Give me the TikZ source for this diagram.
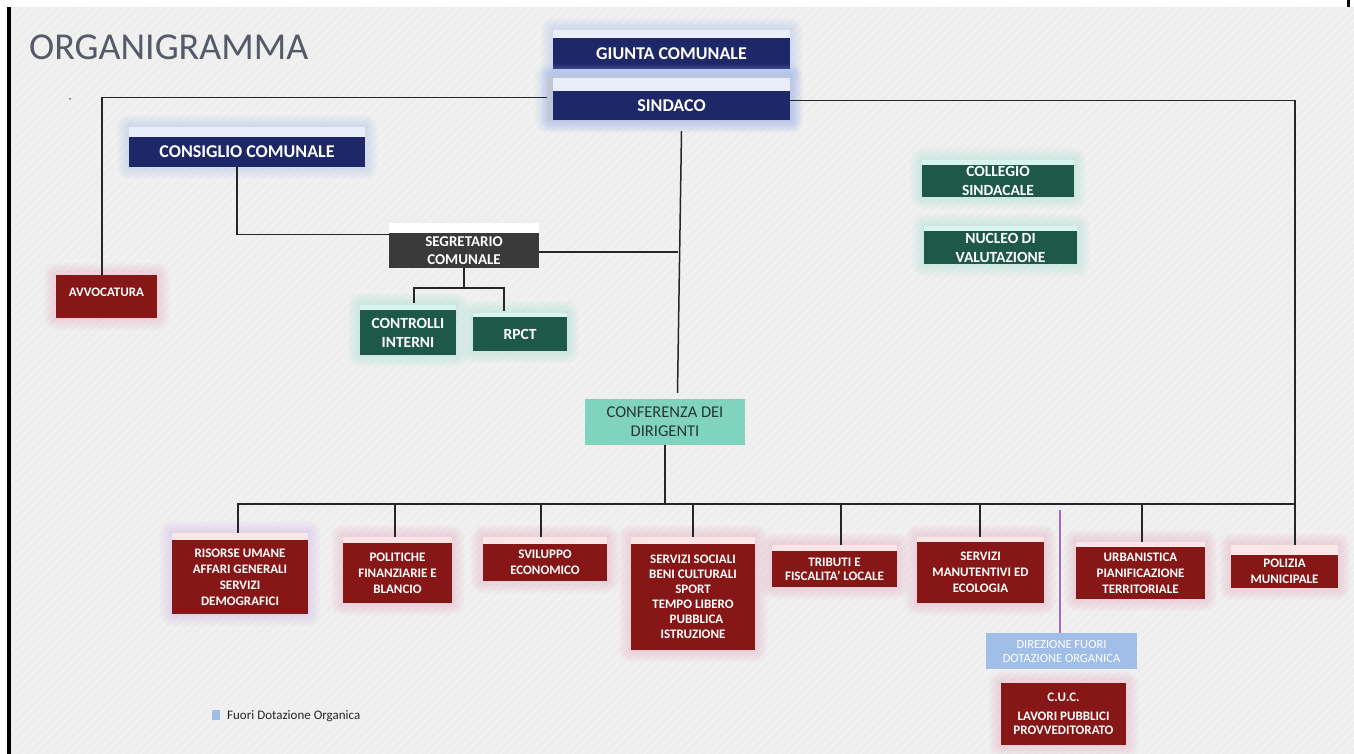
\documentclass[tikz,border=0pt]{standalone}
\usepackage{fontspec}
\setmainfont{Carlito}
\definecolor{bgc}{RGB}{238,238,238}
\definecolor{navyc}{RGB}{30,40,105}
\definecolor{redc}{RGB}{135,22,22}
\definecolor{greenc}{RGB}{30,88,72}
\definecolor{grayc}{RGB}{58,58,58}
\definecolor{confc}{RGB}{128,212,190}
\definecolor{dirc}{RGB}{160,190,232}
\definecolor{navystripc}{RGB}{232,238,250}
\definecolor{redstripc}{RGB}{250,230,230}
\definecolor{greenstripc}{RGB}{215,245,238}
\definecolor{navyglowc}{RGB}{150,175,235}
\definecolor{redglowc}{RGB}{235,150,180}
\definecolor{purpglowc}{RGB}{205,160,235}
\definecolor{greenglowc}{RGB}{140,220,200}
\definecolor{titlec}{RGB}{85,90,105}
\definecolor{purplinec}{RGB}{165,105,205}
\definecolor{conftextc}{RGB}{40,55,50}
\newcommand\obox[9][]{%
  \foreach \g in {2,4,6,8,10,12}{%
    \fill[#3glow, opacity=.06, rounded corners=\g pt] (#4-\g,#5-\g) rectangle (#6+\g,#8+\g);}
  \fill[#3strip] (#4,#5) rectangle (#6,#7);
  \node[#3box, #1, minimum width={(#6-#4)*1pt}, minimum height={(#8-#7)*1pt}, inner sep=0pt, align=center] (#2) at ({(#4+#6)/2},{(#7+#8)/2}) {#9};
}
\begin{document}
\begin{tikzpicture}[x=1pt,y=-1pt,
  navybox/.style={fill=navyc, text=white, font=\bfseries\fontsize{18}{20}\selectfont},
  navystrip/.style={fill=navystripc},
  navyglow/.style={fill=navyglowc},
  graybox/.style={fill=grayc, text=white, font=\bfseries\fontsize{15}{18}\selectfont},
  graystrip/.style={fill=white},
  grayglow/.style={fill=none},
  greenbox/.style={fill=greenc, text=white, font=\bfseries\fontsize{15.5}{19}\selectfont},
  greenstrip/.style={fill=greenstripc},
  greenglow/.style={fill=greenglowc},
  redbox/.style={fill=redc, text=white, font=\bfseries\fontsize{13}{16}\selectfont},
  redstrip/.style={fill=redstripc},
  redglow/.style={fill=redglowc},
  redpbox/.style={redbox},
  redpstrip/.style={redstrip},
  redpglow/.style={fill=purpglowc},
  confbox/.style={fill=confc, text=conftextc, font=\fontsize{16.5}{19}\selectfont},
  confstrip/.style={fill=none},
  confglow/.style={fill=none},
  dirbox/.style={fill=dirc, text=white, font=\fontsize{12.5}{14}\selectfont},
  dirstrip/.style={fill=none},
  dirglow/.style={fill=none},
  conn/.style={draw=black!85, line width=1.5pt},
  purpconn/.style={draw=purplinec, line width=1.3pt}
]
\useasboundingbox (0,0) rectangle (1354,754);
% background
\fill[white] (0,0) rectangle (1354,754);
\fill[bgc] (11,7) rectangle (1354,754);
\begin{scope}
  \clip (11,7) rectangle (1354,754);
  \foreach \i in {0,9,...,2200} \draw[white, opacity=.35, line width=1.2pt] (\i-760,754) -- (\i,7);
\end{scope}
\fill[black] (7,7) rectangle (11,754);
\fill[black] (1347,0) rectangle (1350,7);

% title
\node[anchor=base west, inner sep=0pt, text=titlec, font=\fontsize{38}{40}\selectfont] (title) at (29,60) {ORGANIGRAMMA};
\fill[black!60] (70,99) circle (1pt);

% boxes
\obox{giunta}{navy}{553}{30}{790}{38}{69}{GIUNTA COMUNALE}
\foreach \g in {2,4,6,8,10,12}{\fill[navyglowc, opacity=.06, rounded corners=\g pt] (547-\g,76-\g) rectangle (791+\g,121+\g);}
\fill[black!18] (547,76) rectangle (791,121);
\obox{sindaco}{navy}{553}{78}{790}{91}{120}{SINDACO}
\obox{consiglio}{navy}{129}{127}{365}{137}{167}{CONSIGLIO COMUNALE}
\obox{segretario}{gray}{389}{223}{539}{233}{268}{SEGRETARIO\\COMUNALE}
\obox{controlli}{green}{360}{305}{456}{310}{355}{CONTROLLI\\INTERNI}
\obox{rpct}{green}{473}{313}{567}{317}{351}{RPCT}
\obox{collegio}{green}{922}{160}{1074}{165}{197}{COLLEGIO\\SINDACALE}
\obox{nucleo}{green}{924}{226}{1077}{231}{264}{NUCLEO DI\\VALUTAZIONE}
\obox[text depth=8pt]{avv}{red}{56}{275}{157}{275}{318}{AVVOCATURA}
\obox{conferenza}{conf}{585}{399}{745}{399}{445}{CONFERENZA DEI\\DIRIGENTI}
\obox{risorse}{redp}{172}{533}{308}{540}{614}{RISORSE UMANE\\AFFARI GENERALI\\SERVIZI\\DEMOGRAFICI}
\obox{politiche}{red}{343}{537}{452}{543}{603}{POLITICHE\\FINANZIARIE E\\BLANCIO}
\obox{sviluppo}{red}{483}{537}{607}{544}{581}{SVILUPPO\\ECONOMICO}
\obox[font=\bfseries\fontsize{13}{15}\selectfont]{servizi}{red}{631}{537}{755}{544}{650}{SERVIZI SOCIALI\\BENI CULTURALI\\SPORT\hspace*{36pt}\\TEMPO LIBERO\hspace*{21pt}\\\hspace*{7pt}PUBBLICA\\ISTRUZIONE}
\obox[font=\bfseries\fontsize{13}{14}\selectfont]{tributi}{red}{772}{545}{897}{551}{587}{TRIBUTI E\\FISCALITA' LOCALE}
\obox{manutentivi}{red}{917}{537}{1044}{542}{603}{SERVIZI\\MANUTENTIVI ED\\ECOLOGIA}
\obox{urbanistica}{red}{1076}{542}{1205}{547}{599}{URBANISTICA\\PIANIFICAZIONE\\TERRITORIALE}
\obox{polizia}{red}{1231}{545}{1338}{555}{588}{POLIZIA\\MUNICIPALE}
\obox{direzione}{dir}{986}{633}{1137}{633}{669}{DIREZIONE FUORI\\DOTAZIONE ORGANICA}
\obox[font=\bfseries\fontsize{13}{14.5}\selectfont]{cuc}{red}{1001}{683}{1126}{683}{745}{C.U.C.\\[4pt]LAVORI PUBBLICI\\PROVVEDITORATO}

% legend
\node[fill=dirc, minimum width=8pt, minimum height=10pt, inner sep=0pt] (legsq) at (216,715) {};
\node[anchor=west, inner sep=0pt, text=black!85, font=\fontsize{13}{14}\selectfont] (legtxt) at (227,716) {Fuori Dotazione Organica};

% connectors
\draw[conn] ([xshift=-6pt,yshift=8pt]sindaco.west) -| ([xshift=-4.5pt]avv.north);
\draw[conn] ([yshift=5pt]sindaco.east) -| ([xshift=10.5pt,yshift=10pt]polizia.north);
\draw[conn] ([xshift=-10pt]consiglio.south) |- ([yshift=16pt]segretario.west);
\coordinate (vm) at ([xshift=12.5pt,yshift=6pt]conferenza.north);
\draw[conn] ([xshift=10pt,yshift=-11pt]sindaco.south) -- (vm);
\coordinate (sege) at ([yshift=-1.5pt]segretario.east);
\draw[conn] (sege) -- (sege -| vm);
\coordinate (sj) at ([yshift=-20pt]segretario.south);
\coordinate (cn) at ([xshift=6pt,yshift=7pt]controlli.north);
\coordinate (rn) at ([xshift=-16pt,yshift=6pt]rpct.north);
\draw[conn] (segretario.south) -- (sj);
\draw[conn] (cn) |- (sj) -| (rn);
\coordinate (bj) at ([yshift=-59pt]conferenza.south);
\coordinate (rv) at ([xshift=10.5pt,yshift=10pt]polizia.north);
\draw[conn] (conferenza.south) -- (bj);
\coordinate (t1) at ([xshift=-2pt,yshift=7pt]risorse.north);
\coordinate (t2) at ([xshift=-2.5pt,yshift=6pt]politiche.north);
\coordinate (t3) at ([xshift=-4pt,yshift=7pt]sviluppo.north);
\coordinate (t4) at ([yshift=7pt]servizi.north);
\coordinate (t5) at ([xshift=6.5pt,yshift=6pt]tributi.north);
\coordinate (t6) at ([xshift=-0.5pt,yshift=5pt]manutentivi.north);
\coordinate (t7) at ([xshift=1.5pt,yshift=5pt]urbanistica.north);
\draw[conn] (t1) |- (rv |- bj);
\foreach \t in {t2,t3,t4,t5,t6,t7} \draw[conn] (\t) -- (\t |- bj);
\coordinate (pv) at ([xshift=-1.5pt,yshift=123pt]direzione.north);
\draw[purpconn] (pv) -- (pv |- direzione.north);
\end{tikzpicture}
\end{document}
